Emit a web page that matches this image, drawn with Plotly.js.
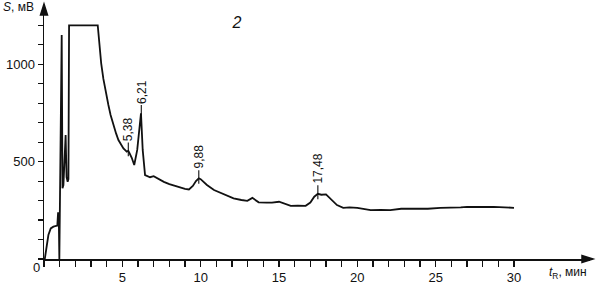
<!DOCTYPE html>
<html>
<head>
<meta charset="utf-8">
<script src="https://cdn.plot.ly/plotly-3.0.1.min.js"></script>
<style>html,body{margin:0;padding:0;background:#fff;}#chart{width:598px;height:285px;}</style>
</head>
<body>
<div id="chart"></div>
<script>
// Retention time, min
const timeMin = [0.05, 0.17, 0.28, 0.43, 0.6, 0.85, 0.9, 0.95, 0.98, 1.13, 1.18, 1.24, 1.38, 1.44, 1.51, 1.56, 1.6,
  3.43, 3.5, 3.57, 3.65, 3.79, 3.95, 4.11, 4.25, 4.43, 4.6, 4.75, 4.9, 5.07, 5.28, 5.38, 5.45, 5.6, 5.76, 5.95, 6.19, 6.3, 6.45, 6.77,
  7.0, 7.3, 7.65, 8.0, 8.5, 9.0, 9.25, 9.5, 9.7, 9.88, 10.0, 10.4, 10.85, 11.5, 12.1, 12.6, 12.98,
  13.3, 13.45, 13.7, 14.2, 14.55, 15.0, 15.3, 15.75, 16.2, 16.7, 17.0, 17.25, 17.48, 17.7, 18.0,
  18.3, 18.7, 19.1, 19.5, 20.0, 20.4, 20.85, 21.5, 22.1, 22.8, 23.5, 24.5, 25.3, 26.0, 26.6, 27.0,
  27.5, 28.0, 28.7, 29.3, 30.0];
// Signal, mV
const signalMV = [0, 72, 123, 157, 166, 172, 240, 180, 0, 1150, 363, 380, 637, 420, 397, 410, 1200,
  1200, 1140, 1068, 1005, 925, 850, 791, 740, 688, 645, 611, 588, 568, 551, 556, 545, 520, 483, 560, 748, 560, 431, 420,
  425, 410, 396, 385, 371, 360, 357, 375, 400, 414, 410, 380, 354, 330, 311, 303, 299,
  314, 305, 291, 290, 289, 294, 285, 273, 274, 273, 290, 320, 335, 330, 332,
  310, 277, 263, 265, 263, 257, 251, 252, 251, 258, 258, 258, 263, 262, 265, 268,
  266, 267, 268, 265, 263];
// Labelled peaks
const peakTimes = [5.38, 6.21, 9.88, 17.48];
const peakValues = [556, 748, 414, 335];
const peakLabels = ["5,38", "6,21", "9,88", "17,48"];
// Axis ticks
const xTickVals = Array.from({length: 31}, (_, i) => i);
const xTickText = xTickVals.map(v => (v % 5 === 0 && v !== 0) ? String(v) : "");
const yTickVals = Array.from({length: 13}, (_, i) => i * 100);
const yTickText = yTickVals.map(v => (v === 500 || v === 1000) ? String(v) : "");
const chartTitle = "2";
const yLabel = "<i>S</i>, мВ";
const xLabel = "<i>t</i><sub>R</sub>, мин";

const W = 598, H = 285;
const M = {l: 44, r: 8, t: 8, b: 26, pad: 0};
const PW = W - M.l - M.r, PH = H - M.t - M.b;
const X_RANGE = [0, 34.85], Y_RANGE = [0, 1289];

const FONT = "Liberation Sans, Arial, Helvetica, sans-serif";
const INK = "#111111";

const trace = {
  x: timeMin, y: signalMV, type: "scatter", mode: "lines",
  line: {color: INK, width: 1.8}, hoverinfo: "skip"
};

// arrowheads at the ends of both axes: paper-space triangles sized in pixels
const px = v => v / PW, py = v => v / PH;
const shapes = [
  {type: "path", xref: "paper", yref: "paper", layer: "above",
   path: `M 0 ${1 + py(4)} L ${-px(3.5)} ${1 - py(7)} L ${px(3.5)} ${1 - py(7)} Z`,
   fillcolor: INK, line: {color: INK, width: 1.5}},
  {type: "path", xref: "paper", yref: "paper", layer: "above",
   path: `M ${1 + px(3)} 0 L ${1 - px(8)} ${py(3.5)} L ${1 - px(8)} ${-py(3.5)} Z`,
   fillcolor: INK, line: {color: INK, width: 1.5}}
];

const annotations = peakTimes.map((t, i) => ({
  x: t, y: peakValues[i] - 28, xref: "x", yref: "y",
  text: peakLabels[i], textangle: -90,
  showarrow: true, arrowhead: 0, arrowwidth: 1.1, arrowcolor: INK,
  ax: 0, ay: -(14 + peakLabels[i].length * 3.3),
  font: {family: FONT, size: 12, color: INK}
}));
annotations.push({x: -0.004, y: -0.032, xref: "paper", yref: "paper", text: "0", showarrow: false,
  xanchor: "right", yanchor: "middle", font: {family: FONT, size: 13, color: INK}});
annotations.push({x: -0.078, y: 1.005, xref: "paper", yref: "paper", text: yLabel, showarrow: false,
  xanchor: "left", yanchor: "middle", font: {family: FONT, size: 12, color: INK}});
annotations.push({x: 0.922, y: -0.055, xref: "paper", yref: "paper", text: xLabel, showarrow: false,
  xanchor: "left", yanchor: "middle", font: {family: FONT, size: 12, color: INK}});

const layout = {
  width: W, height: H, margin: M,
  paper_bgcolor: "#fff", plot_bgcolor: "#fff", showlegend: false,
  title: {text: "<i>" + chartTitle + "</i>", x: 237 / W, xanchor: "center", y: 1 - 22 / H, yanchor: "middle",
    font: {family: FONT, size: 16, color: INK}},
  xaxis: {range: X_RANGE, showgrid: false, zeroline: false, showline: true, linecolor: INK, linewidth: 1.5,
    tickmode: "array", tickvals: xTickVals, ticktext: xTickText,
    ticks: "outside", ticklen: 6, tickwidth: 1.2, tickcolor: INK,
    tickfont: {family: FONT, size: 13, color: INK}, fixedrange: true},
  yaxis: {range: Y_RANGE, showgrid: false, zeroline: false, showline: true, linecolor: INK, linewidth: 1.5,
    tickmode: "array", tickvals: yTickVals, ticktext: yTickText,
    ticks: "outside", ticklen: 5, tickwidth: 1.2, tickcolor: INK,
    tickfont: {family: FONT, size: 13, color: INK}, fixedrange: true},
  shapes: shapes,
  annotations: annotations
};
Plotly.newPlot("chart", [trace], layout, {staticPlot: true, displayModeBar: false});
</script>
</body>
</html>
